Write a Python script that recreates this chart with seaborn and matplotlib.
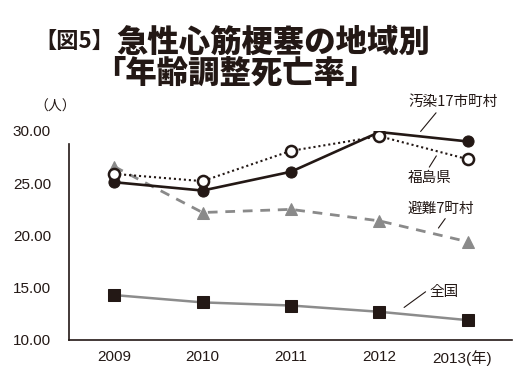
import matplotlib
matplotlib.use("Agg")
import matplotlib.pyplot as plt
import matplotlib.transforms as mtransforms
import seaborn as sns
import pandas as pd

years = ["2009", "2010", "2011", "2012", "2013(年)"]
osen17 = [25.1, 24.3, 26.1, 29.9, 29.0]      # 汚染17市町村
fukushima = [25.9, 25.2, 28.1, 29.5, 27.3]   # 福島県
hinan7 = [26.6, 22.2, 22.5, 21.4, 19.4]      # 避難7町村
zenkoku = [14.3, 13.6, 13.3, 12.7, 11.9]     # 全国
yticks = [10, 15, 20, 25, 30]
ytick_labels = ["10.00", "15.00", "20.00", "25.00", "30.00"]

sns.set_theme(style="white")
plt.rcParams['font.family'] = ['Liberation Sans', 'Noto Sans CJK JP', 'DejaVu Sans']
INK = "#231815"
GRAY = "#8a8a8a"
JP = ['Noto Sans CJK JP', 'DejaVu Sans']

W, H = 527, 378
fig = plt.figure(figsize=(W / 100, H / 100), dpi=100)
ax = fig.add_axes([69 / W, 1 - 340 / H, (512 - 69) / W, (340 - 131) / H])

x = list(range(len(years)))
df = pd.DataFrame({"x": x, "osen": osen17, "fuku": fukushima, "hinan": hinan7, "zen": zenkoku})

sns.lineplot(data=df, x="x", y="zen", ax=ax, color="#8c8c8c", lw=1.8,
             marker="s", markersize=8.5, markerfacecolor=INK, markeredgecolor=INK, zorder=3)
sns.lineplot(data=df, x="x", y="hinan", ax=ax, color=GRAY, lw=2.0, dashes=False,
             linestyle=(0, (3.5, 2.8)), marker="^", markersize=8.5,
             markerfacecolor=GRAY, markeredgecolor=GRAY, zorder=3)
sns.lineplot(data=df, x="x", y="osen", ax=ax, color=INK, lw=1.9,
             marker="o", markersize=8.0, markerfacecolor=INK, markeredgecolor=INK, zorder=4)
sns.lineplot(data=df, x="x", y="fuku", ax=ax, color=INK, lw=1.5, linestyle=(0, (1, 1.4)),
             marker="o", markersize=8.0, markerfacecolor="white", markeredgecolor=INK,
             markeredgewidth=1.8, zorder=5)

ax.set_xlim(-0.51, 4.50)
ax.set_ylim(10, 30)
ax.set_xticks(x)
ax.set_xticklabels(years)
ax.set_yticks(yticks)
ax.set_yticklabels(ytick_labels)
ax.set_xlabel("")
ax.set_ylabel("")
ax.tick_params(axis="both", length=0, labelsize=11, colors=INK)
ax.tick_params(axis="y", pad=13)
ax.tick_params(axis="x", pad=7)
for lab in ax.get_xticklabels():
    lab.set_fontfamily(['Liberation Sans', 'Noto Sans CJK JP'])
last = ax.get_xticklabels()[-1]
last.set_transform(last.get_transform() +
                   mtransforms.ScaledTranslation(-6 / 100, 0, fig.dpi_scale_trans))
for s in ["top", "right"]:
    ax.spines[s].set_visible(False)
for s in ["left", "bottom"]:
    ax.spines[s].set_color(INK)
    ax.spines[s].set_linewidth(1.2)
ax.spines["left"].set_bounds(10, 28.8)
ax.grid(False)

def px(xp, yp):
    # pixel -> data
    return ((xp - 114) / 88.5, 10 + (340 - yp) / 10.48)

def label(text, tx, ty, l0, l1):
    ax.annotate("", xy=px(*l1), xytext=px(*l0),
                arrowprops=dict(arrowstyle="-", color=INK, lw=0.8))
    ax.text(*px(tx, ty), text, fontsize=10.5, color=INK, family=JP,
            ha="left", va="center", clip_on=False)

label("汚染17市町村", 409, 101, (438, 110), (419, 133))
label("福島県", 408, 178, (438, 153), (428, 169))
label("避難7町村", 408, 208, (447, 216), (437, 230))
label("全国", 430, 292, (428, 290), (402, 309))

fig.text(34 / W, 1 - 107 / H, "（人）", fontsize=10, color=INK, family=JP,
         ha="left", va="center")

fig.text(114 / W, 1 - 42 / H, "【図5】", fontsize=16, color=INK, family=JP,
         weight="bold", ha="right", va="center")
fig.text(116 / W, 1 - 42 / H, "急性心筋梗塞の地域別", fontsize=22.6, color=INK,
         family=JP, weight="heavy", ha="left", va="center")
fig.text(235 / W, 1 - 73 / H, "「年齢調整死亡率」", fontsize=22.6, color=INK,
         family=JP, weight="heavy", ha="center", va="center")

fig.savefig("out.png", dpi=100, facecolor="white")
